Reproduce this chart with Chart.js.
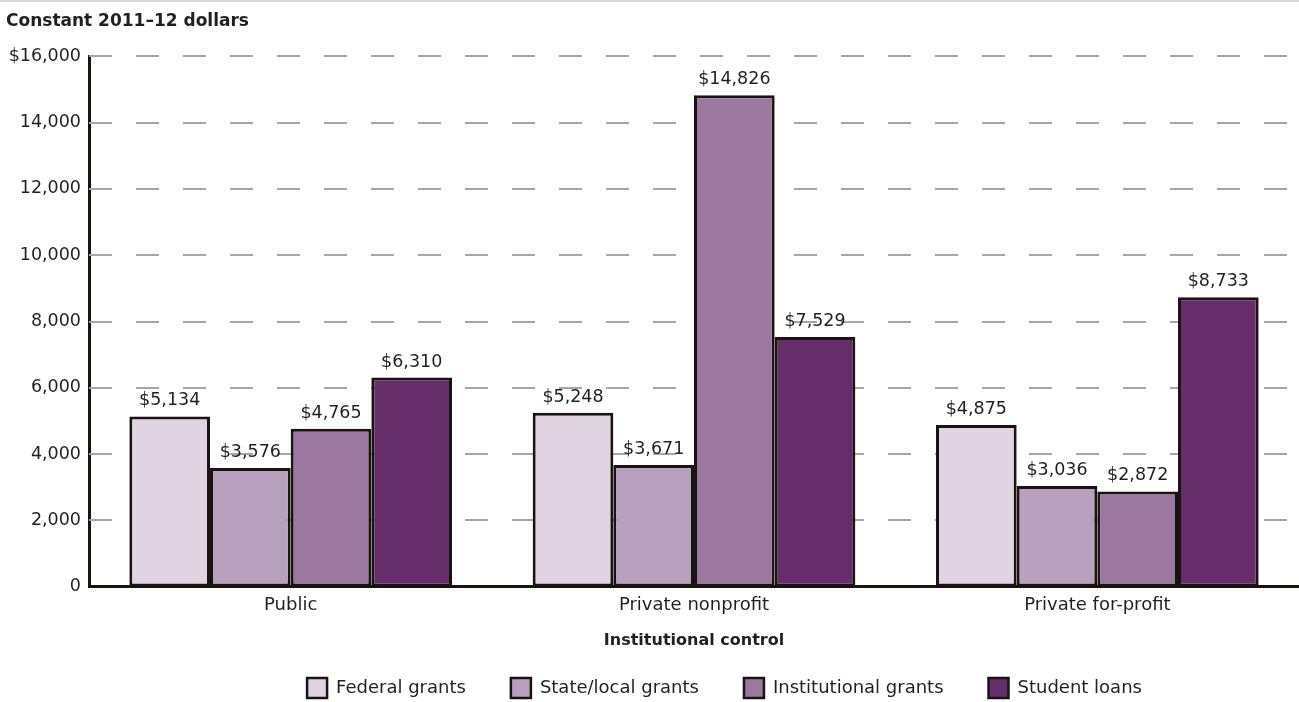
<!DOCTYPE html>
<html>
<head>
<meta charset="utf-8">
<script src="https://cdn.jsdelivr.net/npm/chart.js@4.4.1/dist/chart.umd.min.js"></script>
<style>
  html, body { margin: 0; padding: 0; background: #fff; }
  #wrap { width: 1299px; height: 700px; border-top: 2px solid #d9d9d9; position: relative; }
  canvas { display: block; }
</style>
</head>
<body>
<div id="wrap"><canvas id="c" width="1299" height="700"></canvas></div>
<script>
const categories = ["Public", "Private nonprofit", "Private for-profit"];
const seriesNames = ["Federal grants", "State/local grants", "Institutional grants", "Student loans"];
const federalGrants = [5134, 5248, 4875];
const stateLocalGrants = [3576, 3671, 3036];
const institutionalGrants = [4765, 14826, 2872];
const studentLoans = [6310, 7529, 8733];
const yTickValues = [0, 2000, 4000, 6000, 8000, 10000, 12000, 14000, 16000];
const colors = ["#e0d4e3", "#b8a0bf", "#9c779f", "#652d69"];

const FONT = "'DejaVu Sans', 'Noto Sans', sans-serif";
const seriesData = [federalGrants, stateLocalGrants, institutionalGrants, studentLoans];

const fmt = v => "$" + v.toLocaleString("en-US");

const dashedGrid = {
  id: "dashedGrid",
  beforeDatasetsDraw(chart) {
    const ctx = chart.ctx, ys = chart.scales.y, a = chart.chartArea;
    ctx.save();
    ctx.strokeStyle = "#a6a6a6";
    ctx.lineWidth = 2;
    ctx.setLineDash([23, 24]);
    yTickValues.forEach(v => {
      if (v === 0) return;
      const y = Math.round(ys.getPixelForValue(v));
      ctx.beginPath();
      ctx.moveTo(a.left, y);
      ctx.lineTo(a.right, y);
      ctx.stroke();
    });
    ctx.restore();
  }
};

const valueLabels = {
  id: "valueLabels",
  afterDatasetsDraw(chart) {
    const ctx = chart.ctx;
    ctx.save();
    ctx.font = "17.5px " + FONT;
    ctx.fillStyle = "#231f20";
    ctx.textAlign = "center";
    ctx.textBaseline = "alphabetic";
    chart.data.datasets.forEach((ds, i) => {
      const meta = chart.getDatasetMeta(i);
      meta.data.forEach((bar, j) => {
        ctx.fillText(fmt(ds.data[j]), bar.x, bar.y - 11);
      });
    });
    ctx.restore();
  }
};

const placeLegend = {
  id: "placeLegend",
  afterLayout(chart) {
    const lg = chart.legend;
    if (!lg) return;
    const dx = 72;
    const targetTop = 631;
    const dy = targetTop - lg.top;
    lg.left += dx; lg.right += dx;
    lg.top += dy; lg.bottom += dy;
    if (lg.adjustHitBoxes) lg.adjustHitBoxes();
  }
};

new Chart(document.getElementById("c"), {
  type: "bar",
  data: {
    labels: categories,
    datasets: seriesNames.map((n, i) => ({
      label: n,
      data: seriesData[i],
      backgroundColor: colors[i],
      borderColor: "#1a1410",
      borderWidth: 3,
      borderSkipped: false,
      categoryPercentage: 0.8,
      barPercentage: 1.0
    }))
  },
  options: {
    responsive: false,
    animation: false,
    layout: { padding: { left: 6, right: 0, top: 0, bottom: -23 } },
    plugins: {
      title: {
        display: true,
        text: "Constant 2011–12 dollars",
        align: "start",
        color: "#231f20",
        font: { family: FONT, size: 17, weight: "bold" },
        padding: { top: 9, bottom: 25 }
      },
      legend: {
        position: "bottom",
        labels: {
          color: "#231f20",
          font: { family: FONT, size: 18 },
          boxWidth: 20,
          boxHeight: 20,
          padding: 45,
          generateLabels(chart) {
            return chart.data.datasets.map((ds, i) => ({
              text: ds.label,
              fillStyle: ds.backgroundColor,
              strokeStyle: "#1a1410",
              lineWidth: 2.5,
              fontColor: "#231f20",
              datasetIndex: i,
              hidden: false
            }));
          }
        }
      },
      tooltip: { enabled: false }
    },
    scales: {
      x: {
        grid: { display: false, drawTicks: false },
        border: { display: true, color: "#1a1410", width: 3 },
        ticks: { color: "#231f20", font: { family: FONT, size: 18 }, padding: 8 },
        title: {
          display: true,
          text: "Institutional control",
          color: "#231f20",
          font: { family: FONT, size: 16, weight: "bold" },
          padding: { top: 6.6, bottom: 0 }
        }
      },
      y: {
        min: 0,
        max: 16000,
        afterBuildTicks(scale) { scale.ticks = yTickValues.map(v => ({ value: v })); },
        afterFit(scale) { scale.width = 83; },
        grid: { display: false, drawTicks: false },
        border: { display: true, color: "#1a1410", width: 3 },
        ticks: {
          color: "#231f20",
          font: { family: FONT, size: 17.5 },
          padding: 8,
          callback: (v) => v === 16000 ? fmt(v) : v.toLocaleString("en-US")
        }
      }
    }
  },
  plugins: [dashedGrid, valueLabels, placeLegend]
});
</script>
</body>
</html>
